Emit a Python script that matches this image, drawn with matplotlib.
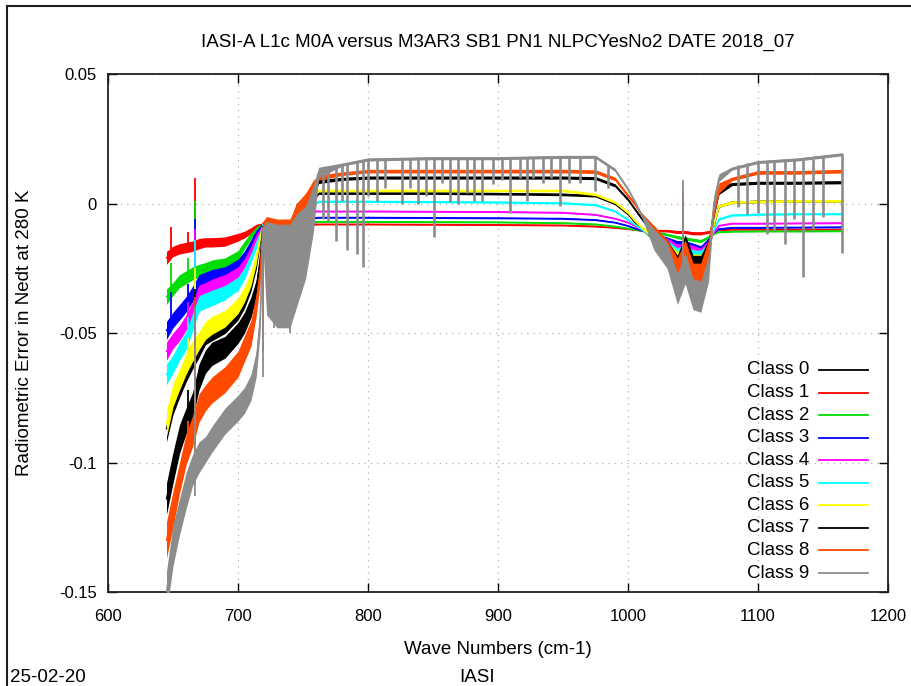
import numpy as np
import matplotlib
matplotlib.use("Agg")
import matplotlib.pyplot as plt
from matplotlib.lines import Line2D

plt.rcParams['font.family'] = ['Liberation Sans', 'DejaVu Sans']

# ---------------------------------------------------------------- data ----
MILLI = 1e-3   # all error values below are written in units of 1e-3

title = "IASI-A L1c M0A versus M3AR3 SB1 PN1 NLPCYesNo2 DATE 2018_07"
x_label = "Wave Numbers (cm-1)"
y_label = "Radiometric Error in Nedt at 280 K"
date_note = "25-02-20"
instrument_note = "IASI"

x_ticks = [600, 700, 800, 900, 1000, 1100, 1200]
x_tick_labels = ["600", "700", "800", "900", "1000", "1100", "1200"]
y_ticks = [0.05, 0.0, -0.05, -0.10, -0.15]
y_tick_labels = ["0.05", "0", "-0.05", "-0.1", "-0.15"]

class_labels = ["Class 0", "Class 1", "Class 2", "Class 3", "Class 4",
                "Class 5", "Class 6", "Class 7", "Class 8", "Class 9"]
class_colors = ["#000000", "#ff0000", "#00dd00", "#0000ff", "#ff00ff",
                "#00ffff", "#ffff00", "#000000", "#ff4a00", "#8c8c8c"]

# spectral knots (cm-1)
wavenumber = np.array([
    645, 650, 655, 660, 665, 670, 675, 680, 690, 700, 705, 710, 714, 717,
    719, 722, 730, 740, 745, 752, 758, 762, 780, 800,
    850, 900, 950, 975, 990, 1000, 1005, 1010, 1020, 1030,
    1038, 1044, 1050, 1056, 1062, 1066, 1070, 1080, 1100, 1130, 1165])

# mean radiometric error per class at the knots
err_class0 = np.array([
    -87, -77, -71, -65, -60, -56, -51, -49.5, -47, -42, -37.5, -31, -23, -14,
    -9.5, -9.5, -10, -10.5, -6.5, -2.5, 2, 4, 4, 4,
    4, 3.8, 3.5, 3, 0, -4, -7, -9.5, -13.5, -16.5,
    -21, -19, -22, -22, -18, -8.5, -1, 0.5, 0.8, 1, 1]) * MILLI
err_class1 = np.array([
    -21, -18.5, -17.5, -17, -16.5, -15.5, -15, -15, -14.7, -13, -12, -10.5, -9, -8.5,
    -8, -7, -7, -7, -7.3, -7.6, -8, -8, -8, -8,
    -8.1, -8.2, -8.4, -8.8, -9.3, -9.8, -10.1, -10.4, -10.5, -10.5,
    -11, -11, -11.5, -11.5, -11, -10.5, -10.2, -10, -10, -10, -10]) * MILLI
err_class2 = np.array([
    -36, -33, -30, -28.5, -27, -26, -25, -24, -23, -20, -16, -12.5, -10, -9,
    -8.5, -7.5, -7.5, -7.5, -7.2, -7, -7, -7, -7, -7,
    -7.1, -7.2, -7.5, -8, -8.8, -9.6, -10, -10.4, -11, -12,
    -13, -13.5, -14, -14.5, -13, -11.5, -11, -10.8, -10.7, -10.7, -10.6]) * MILLI
err_class3 = np.array([
    -49, -45, -42, -39, -35, -30, -29, -28, -26.6, -23.5, -20, -15.5, -11.5, -9.5,
    -8.5, -7.5, -8, -8, -7, -6, -5.5, -5.4, -5.4, -5.4,
    -5.5, -5.6, -5.8, -6.3, -7.3, -8.6, -9.5, -10.3, -12, -13.5,
    -15, -15, -16, -17, -14, -11, -9.8, -9.3, -9.3, -9.2, -9.1]) * MILLI
err_class4 = np.array([
    -57, -53, -50, -46, -41, -34, -33, -31.7, -29.7, -26.5, -23, -18, -13, -10.5,
    -9, -8, -8.5, -8.5, -6.5, -4.5, -3, -3, -3, -3,
    -3.1, -3.2, -3.5, -4.3, -5.8, -7.3, -8.5, -10, -12.5, -14,
    -16.5, -16, -17, -18, -15, -11, -8.5, -7.7, -7.7, -7.6, -7.5]) * MILLI
err_class5 = np.array([
    -66, -62, -57, -53, -46, -38.6, -37.5, -36.5, -34.4, -31, -27, -21, -16, -12,
    -9, -8.5, -9, -9, -6, -3, -0.5, 0.8, 0.8, 0.8,
    0.7, 0.5, 0.2, -0.5, -3, -6.3, -8, -9.8, -13, -15,
    -18, -17, -19, -19, -16, -10, -6, -4.5, -4.2, -4, -4]) * MILLI
err_class6 = np.array([
    -85, -74, -68, -62, -57, -53, -49, -47, -44.5, -39.5, -35, -29, -21, -13,
    -9, -9, -9.5, -10, -6, -2, 3, 5, 5, 5,
    5, 5, 5, 3.5, 0.5, -3.5, -6.5, -9, -13, -16,
    -20, -18, -21, -21, -17, -8, -1, 0.5, 0.8, 1, 1]) * MILLI
err_class7 = np.array([
    -114, -102, -91, -84, -78, -67, -61, -58, -55.5, -50, -46, -40, -33, -22,
    -9, -10, -12, -12, -4, 0, 5, 8.5, 9.5, 10,
    10, 10, 10, 9.8, 7, 1.5, -2, -5.5, -11, -17,
    -23, -15, -23, -23, -17, -3, 5, 7.5, 8, 8, 8.2]) * MILLI
err_class8 = np.array([
    -130, -118, -106, -95, -88, -79, -75, -72, -68, -62, -56, -50, -39, -27,
    -10, -15, -18, -18, -8, -2, 5, 10, 11.5, 12.5,
    12.5, 12.5, 12.5, 12.3, 9.5, 3, 0, -4, -11.5, -18,
    -25, -18, -27, -27, -18, -2, 6, 9.5, 12, 12, 12.5]) * MILLI
err_class9 = np.array([
    -150, -132, -121, -111, -103, -98, -95, -91, -84, -79, -76, -71, -62, -45,
    -12, -25, -28, -28, -22, -15, -2, 12, 15, 17,
    17.5, 17.5, 18, 18, 13, 5.5, 1, -4, -14, -20,
    -33, -25, -35, -36, -25, 0, 10, 13.5, 16, 17, 19]) * MILLI

# half-width of the noise band around each mean curve
spread_class0 = np.array([
    5, 4.5, 4, 4, 4, 3.5, 3.5, 3.5, 3.2, 3, 3, 2.8, 2.5, 1.5,
    1, 1.5, 1.5, 1.5, 1.2, 1, 0.8, 0.5, 0.5, 0.5,
    0.5, 0.5, 0.5, 0.5, 0.5, 0.5, 0.5, 0.5, 1, 1.2,
    1.5, 1.5, 1.5, 1.5, 1.2, 0.8, 0.5, 0.5, 0.5, 0.5, 0.5]) * MILLI
spread_class1 = np.array([
    2.5, 2, 2, 2, 2, 2, 1.8, 1.8, 1.8, 1.5, 1.3, 1.2, 1, 0.8,
    0.5, 0.5, 0.5, 0.5, 0.5, 0.5, 0.4, 0.3, 0.3, 0.3,
    0.3, 0.3, 0.3, 0.3, 0.3, 0.3, 0.3, 0.3, 0.5, 0.5,
    0.6, 0.6, 0.6, 0.6, 0.5, 0.4, 0.3, 0.3, 0.3, 0.3, 0.3]) * MILLI
spread_class2 = np.array([
    3, 2.5, 2.5, 2.5, 2.5, 2.5, 2.2, 2.2, 2, 1.8, 1.5, 1.3, 1, 0.8,
    0.5, 0.5, 0.5, 0.5, 0.5, 0.5, 0.4, 0.3, 0.3, 0.3,
    0.3, 0.3, 0.3, 0.3, 0.3, 0.3, 0.3, 0.3, 0.5, 0.5,
    0.6, 0.6, 0.6, 0.6, 0.5, 0.4, 0.3, 0.3, 0.3, 0.3, 0.3]) * MILLI
spread_class3 = np.array([
    3.5, 3, 3, 3, 3, 2.5, 2.5, 2.5, 2.2, 2, 1.8, 1.5, 1.2, 0.8,
    0.5, 0.5, 0.5, 0.5, 0.5, 0.5, 0.4, 0.3, 0.3, 0.3,
    0.3, 0.3, 0.3, 0.3, 0.3, 0.3, 0.3, 0.3, 0.5, 0.6,
    0.7, 0.7, 0.7, 0.7, 0.6, 0.4, 0.3, 0.3, 0.3, 0.3, 0.3]) * MILLI
spread_class4 = np.array([
    3.5, 3, 3, 3, 3, 2.5, 2.5, 2.5, 2.3, 2, 1.8, 1.5, 1.2, 0.8,
    0.5, 0.5, 0.5, 0.5, 0.5, 0.5, 0.4, 0.3, 0.3, 0.3,
    0.3, 0.3, 0.3, 0.3, 0.3, 0.3, 0.3, 0.3, 0.6, 0.7,
    0.8, 0.8, 0.8, 0.8, 0.7, 0.5, 0.3, 0.3, 0.3, 0.3, 0.3]) * MILLI
spread_class5 = np.array([
    4, 3.5, 3.5, 3.5, 3.5, 3, 3, 3, 2.8, 2.5, 2.2, 1.8, 1.5, 1,
    0.6, 0.6, 0.6, 0.6, 0.6, 0.6, 0.5, 0.4, 0.4, 0.4,
    0.4, 0.4, 0.4, 0.4, 0.4, 0.4, 0.4, 0.4, 0.8, 0.8,
    1, 1, 1, 1, 0.8, 0.6, 0.4, 0.4, 0.4, 0.4, 0.4]) * MILLI
spread_class6 = np.array([
    5, 4.5, 4, 4, 4, 3.5, 3.5, 3.5, 3.2, 3, 3, 2.8, 2.5, 1.5,
    1, 1.5, 1.5, 1.5, 1.2, 1, 0.8, 0.5, 0.5, 0.5,
    0.5, 0.5, 0.5, 0.5, 0.5, 0.5, 0.5, 0.5, 1, 1.2,
    1.5, 1.5, 1.5, 1.5, 1.2, 0.8, 0.5, 0.5, 0.5, 0.5, 0.5]) * MILLI
spread_class7 = np.array([
    6, 6, 5.5, 5, 5, 5, 4.5, 4.5, 4.2, 4, 4, 4, 3.5, 3,
    2, 4, 5, 5, 4, 3, 2, 0.8, 0.6, 0.6,
    0.6, 0.6, 0.6, 0.6, 0.6, 0.6, 0.6, 0.6, 2, 3,
    3, 3, 3, 3, 3, 2.5, 1.5, 0.6, 0.6, 0.6, 0.6]) * MILLI
spread_class8 = np.array([
    7, 7, 6, 6, 6, 5.5, 5, 5, 5, 5, 5, 5, 4.5, 4,
    3, 10, 12, 12, 8, 6, 4, 1, 0.7, 0.7,
    0.7, 0.7, 0.7, 0.7, 0.7, 0.7, 0.7, 0.7, 3, 4,
    4, 4, 4, 4, 4, 3, 2, 0.7, 0.7, 0.7, 0.7]) * MILLI
spread_class9 = np.array([
    8, 8, 7, 7, 6, 6, 5, 5, 5, 5, 5, 5, 5, 5,
    3, 18, 20, 20, 18, 14, 9, 2, 0.6, 0.6,
    0.6, 0.6, 0.6, 0.6, 0.6, 0.6, 0.6, 0.6, 4, 5,
    6, 6, 6, 6, 5, 3, 1.5, 0.6, 0.6, 0.6, 0.6]) * MILLI

# narrow spectral features: wavenumber, then per-class top / bottom (nan = none)
nan = np.nan
feature_wn = [648.5, 661.5, 667.0, 719.0, 728.0, 734.0, 740.0, 1042.0]
feature_top = np.array([
    # c0    c1    c2     c3     c4     c5     c6     c7     c8     c9
    [nan,  -9,   -23,   -34,   nan,   nan,   nan,   nan,   nan,   nan],
    [-57,  -11,  -21,   -31,   -38,   -44,   -52,   -72,   -84,   -104],
    [-28,  10,   1,     -6,    -10,   -14,   -25,   -33,   -36,   -40],
    [-8.5, -8,   -8,    -8,    -8,    -8,    -8.5,  -9,    -9,    -9],
    [nan,  nan,  nan,   nan,   nan,   nan,   nan,   -10,   -8,    -9],
    [nan,  nan,  nan,   nan,   nan,   nan,   nan,   -10,   -8,    -9],
    [nan,  nan,  nan,   nan,   nan,   nan,   nan,   -10,   -8,    -9],
    [-8,   -11,  -12.5, -13,   -12,   -10,   -8,    0,     5,     9],
]) * MILLI
feature_bottom = np.array([
    [nan,  -19,  -34,   -46,   nan,   nan,   nan,   nan,   nan,   nan],
    [-66,  -17,  -29,   -39,   -46,   -53,   -62,   -85,   -95,   -111],
    [-64,  -17,  -28,   -34,   -38,   -45,   -62,   -82,   -102,  -113],
    [-36,  -11,  -15,   -18,   -22,   -28,   -35,   -46,   -57,   -67],
    [nan,  nan,  nan,   nan,   nan,   nan,   nan,   -20,   -32,   -48],
    [nan,  nan,  nan,   nan,   nan,   nan,   nan,   -18,   -28,   -47],
    [nan,  nan,  nan,   nan,   nan,   nan,   nan,   -22,   -45,   -50],
    [-20,  -11.5, -13.5, -15,  -16.5, -17.5, -19,   -20,   -22,   -30],
]) * MILLI

# absorption lines on the Class 9 curve: position, curve level, line minimum
gray_line_wn = np.array([
    765, 769, 775, 780, 784, 791.5, 796, 800, 807, 813, 826, 832, 838.5,
    844.5, 850.5, 857, 863, 869, 876, 881.5, 888, 896, 903, 909, 917, 922,
    927, 934.6, 941, 947.7, 955, 963, 974.6, 984.6,
    1085, 1091.5, 1100, 1107, 1112, 1121, 1128, 1135, 1142, 1150, 1165])
gray_line_top = np.array([
    13, 13.5, 14, 15, 15.5, 16, 16.5, 17, 17, 17.2, 17.5, 17.5, 17.5,
    17.5, 17.5, 17.5, 17.5, 17.5, 17.5, 17.5, 17.5, 17.5, 17.5, 17.5, 17.8, 17.8,
    17.8, 18, 18, 18, 18, 18, 18, 15,
    15, 15.5, 16, 16, 16.3, 16.5, 16.8, 17, 17.3, 17.8, 19]) * MILLI
gray_line_min = np.array([
    -6, -6.6, -14.3, 1, -18, -19.5, -24.7, 3, 1, 6, 0, 6, 0,
    3, -13, 8, 0.5, 0, 4, 1, 1, 7.7, 9, -3.5, 10, 1,
    10, 8, 10, -1, 8, 8, 5, 6,
    -1.5, -3.9, -3.5, -11.6, -10.4, -15.5, -6, -28.5, -10, -5.4, -19]) * MILLI

errors = [err_class0, err_class1, err_class2, err_class3, err_class4,
          err_class5, err_class6, err_class7, err_class8, err_class9]
spreads = [spread_class0, spread_class1, spread_class2, spread_class3,
           spread_class4, spread_class5, spread_class6, spread_class7,
           spread_class8, spread_class9]

# --------------------------------------------------------------- figure ---
W, H = 912, 686
fig = plt.figure(figsize=(W / 100, H / 100), dpi=100)
ax = fig.add_axes([108 / W, 94 / H, 780 / W, 518 / H])

TEXT_SIZE = 13.5


def fx(px):
    return px / W


def fy(py):
    return 1 - py / H


for i in range(10):
    z = 3 + i
    col = class_colors[i]
    ax.fill_between(wavenumber, errors[i] - spreads[i], errors[i] + spreads[i],
                    color=col, lw=0, zorder=z)
    ax.plot(wavenumber, errors[i], color=col, lw=1.0, zorder=z,
            solid_joinstyle="round")
    tops = feature_top[:, i]
    bots = feature_bottom[:, i]
    ok = ~np.isnan(tops)
    ax.vlines(np.array(feature_wn)[ok], bots[ok], tops[ok], color=col,
              lw=1.3, zorder=z)

ax.vlines(gray_line_wn, gray_line_min, gray_line_top, color=class_colors[9],
          lw=1.9, zorder=12.5)

ax.set_xlim(600, 1200)
ax.set_ylim(-0.15, 0.05)
ax.set_xticks(x_ticks)
ax.set_xticklabels(x_tick_labels)
ax.set_yticks(y_ticks)
ax.set_yticklabels(y_tick_labels)
ax.tick_params(direction="in", length=6.5, width=1.0, top=True, right=True,
               labelsize=12, colors="#000000")
ax.tick_params(axis="x", pad=12)
ax.tick_params(axis="y", pad=8)
ax.grid(True, color="#b0b0b0", lw=0.9, ls=(0, (1, 4)), zorder=1)
ax.set_axisbelow(True)
for s in ax.spines.values():
    s.set_linewidth(1.3)
    s.set_color("#202020")

# legend block
text_right = 809
line_x0, line_x1 = 819, 868
row0, row_step = 370, 22.56
for i, lab in enumerate(class_labels):
    yy = row0 + i * row_step
    fig.text(fx(text_right), fy(yy), lab, ha="right", va="center",
             fontsize=TEXT_SIZE, zorder=20)
    fig.add_artist(Line2D([fx(line_x0), fx(line_x1)], [fy(yy), fy(yy)],
                          color=class_colors[i], lw=1.3, zorder=20))

fig.text(fx(498), fy(42), title, ha="center", va="center", fontsize=TEXT_SIZE)
fig.text(fx(498), fy(650), x_label, ha="center", va="center",
         fontsize=TEXT_SIZE)
fig.text(fx(25), fy(333), y_label, ha="center", va="center",
         fontsize=TEXT_SIZE, rotation=90)
fig.text(fx(10), fy(677), date_note, ha="left", va="center",
         fontsize=TEXT_SIZE)
fig.text(fx(477), fy(677), instrument_note, ha="center", va="center",
         fontsize=TEXT_SIZE)

# outer frame (left and top edges)
fig.add_artist(Line2D([fx(7), fx(7)], [fy(6), 0], color="#202020", lw=1.5))
fig.add_artist(Line2D([fx(7), 1], [fy(6), fy(6)], color="#202020", lw=1.5))

fig.savefig("out.png", dpi=100)
